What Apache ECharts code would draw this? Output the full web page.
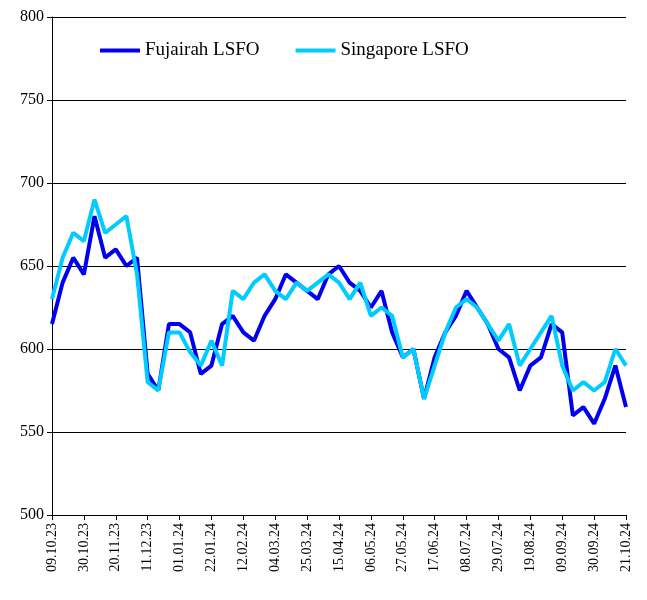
<!DOCTYPE html>
<html>
<head>
<meta charset="utf-8">
<script src="https://cdn.jsdelivr.net/npm/echarts@6/dist/echarts.min.js"></script>
<style>html,body{margin:0;padding:0;background:#fff}#c{width:647px;height:600px}</style>
</head>
<body>
<div id="c"></div>
<script>
const dates = [];
(function () {
    let d = new Date(Date.UTC(2023, 9, 9));
    for (let i = 0; i < 55; i++) {
        const dd = String(d.getUTCDate()).padStart(2, '0');
        const mm = String(d.getUTCMonth() + 1).padStart(2, '0');
        const yy = String(d.getUTCFullYear()).slice(2);
        dates.push(dd + '.' + mm + '.' + yy);
        d = new Date(d.getTime() + 7 * 86400000);
    }
})();

const fujairah = [615, 640, 655, 645, 680, 655, 660, 650, 655, 585,
    575, 615, 615, 610, 585, 590, 615, 620, 610, 605,
    620, 630, 645, 640, 635, 630, 645, 650, 640, 635,
    625, 635, 610, 595, 600, 570, 595, 610, 620, 635,
    625, 615, 600, 595, 575, 590, 595, 615, 610, 560,
    565, 555, 570, 590, 565];
const singapore = [630, 655, 670, 665, 690, 670, 675, 680, 645, 580,
    575, 610, 610, 598, 590, 605, 590, 635, 630, 640,
    645, 635, 630, 640, 635, 640, 645, 640, 630, 640,
    620, 625, 620, 595, 600, 570, 590, 610, 625, 630,
    625, 615, 605, 615, 590, 600, 610, 620, 590, 575,
    580, 575, 580, 600, 590];

const font = 'Liberation Serif';
const chart = echarts.init(document.getElementById('c'));
chart.setOption({
    animation: false,
    grid: { left: 52, right: 21, top: 17, bottom: 85 },
    legend: {
        left: 95, top: 36, itemWidth: 40, itemHeight: 4, itemGap: 36, itemTextGap: 6,
        icon: 'rect',
        textStyle: { fontFamily: font, fontSize: 19, color: '#000' },
        data: ['Fujairah LSFO', 'Singapore LSFO']
    },
    xAxis: {
        type: 'category', boundaryGap: false, data: dates,
        axisLine: { lineStyle: { color: '#000' } },
        axisTick: { interval: 2, lineStyle: { color: '#000' } },
        axisLabel: { interval: 2, rotate: 90, fontFamily: font, fontSize: 14, color: '#000' }
    },
    yAxis: {
        type: 'value', min: 500, max: 800, interval: 50,
        axisLine: { show: true, lineStyle: { color: '#000' } },
        axisTick: { show: true, lineStyle: { color: '#000' } },
        axisLabel: { fontFamily: font, fontSize: 16, color: '#000' },
        splitLine: { lineStyle: { color: '#000' } }
    },
    series: [
        { name: 'Fujairah LSFO', type: 'line', data: fujairah, symbol: 'none',
          lineStyle: { color: '#0000ee', width: 4 }, itemStyle: { color: '#0000ee' } },
        { name: 'Singapore LSFO', type: 'line', data: singapore, symbol: 'none',
          lineStyle: { color: '#00ccff', width: 4 }, itemStyle: { color: '#00ccff' } }
    ]
});
</script>
</body>
</html>
